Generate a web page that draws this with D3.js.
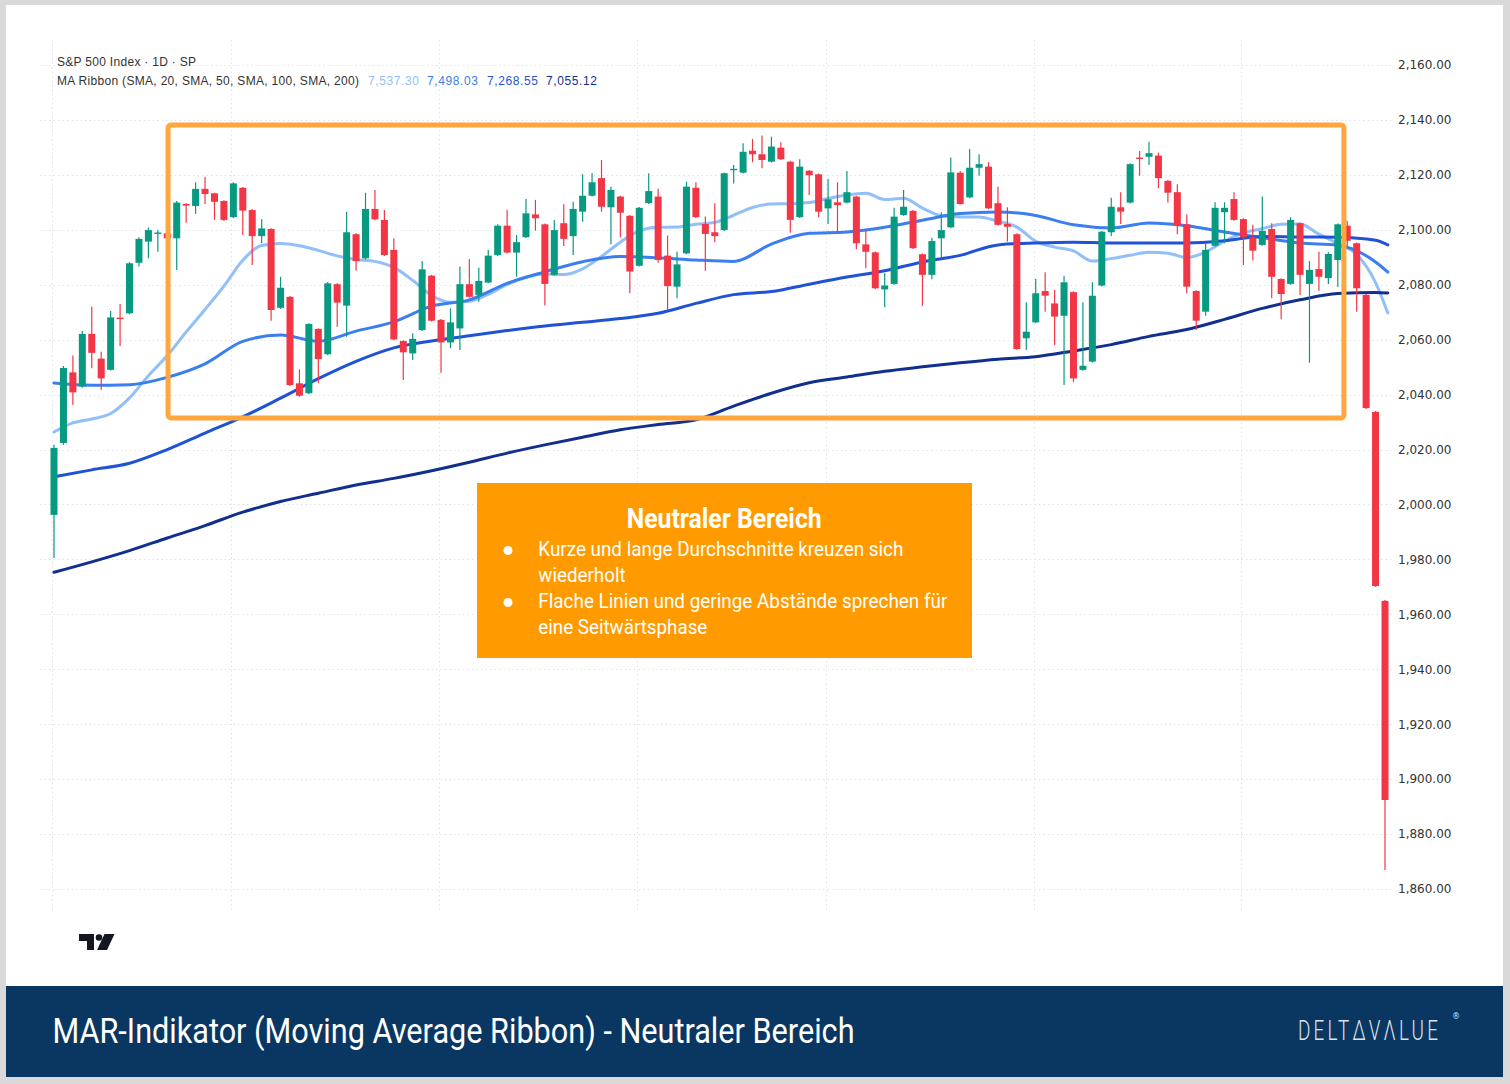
<!DOCTYPE html>
<html><head><meta charset="utf-8">
<script src="https://cdn.jsdelivr.net/npm/d3@7"></script>
<style>html,body{margin:0;padding:0;background:#d9d9d9;} svg{display:block;}</style>
</head><body>
<svg id="chart" width="1510" height="1084"></svg>
<script>
// ---------- DATA (daily candles) ----------
const open = [1996.2,2022.4,2048.1,2042.9,2062.1,2053.1,2049.0,2068.0,2069.6,2088.0,
2095.7,2098.5,2098.7,2096.9,2109.4,2108.7,2114.9,2113.3,2110.5,2104.6,
2115.3,2107.2,2097.7,2100.3,2071.6,2075.6,2044.1,2040.5,2063.9,2054.7,
2080.2,2072.4,2098.4,2089.6,2107.6,2103.6,2092.7,2059.5,2055.0,2063.5,
2083.3,2067.2,2059.0,2064.1,2080.2,2076.3,2080.8,2090.8,2101.5,2091.7,
2097.3,2105.6,2102.0,2083.6,2102.4,2097.7,2106.6,2112.4,2118.8,2108.2,
2112.1,2105.1,2086.9,2109.7,2112.1,2090.6,2079.3,2091.4,2115.3,2102.1,
2099.1,2099.9,2121.7,2120.8,2128.8,2127.5,2124.8,2129.9,2124.8,2104.6,
2121.5,2120.2,2107.8,2110.0,2109.9,2112.1,2094.7,2091.8,2078.3,2080.3,
2105.4,2106.9,2091.1,2083.6,2096.9,2100.9,2120.8,2111.8,2122.6,2123.0,
2109.7,2102.1,2098.4,2060.5,2066.3,2077.7,2073.2,2068.7,2077.3,2049.0,
2052.0,2079.7,2099.1,2108.2,2109.9,2126.3,2126.6,2127.0,2117.8,2113.7,
2102.0,2077.7,2070.2,2094.2,2106.4,2111.2,2103.9,2097.3,2094.5,2100.3,
2082.1,2080.3,2102.4,2080.3,2085.7,2082.4,2089.0,2101.5,2095.1,2076.3,
2033.7,1964.9];
const high = [2021.7,2050.4,2054.2,2063.2,2072.0,2055.6,2070.4,2073.0,2088.2,2097.3,
2100.8,2099.9,2099.6,2110.5,2109.8,2117.3,2119.3,2113.5,2110.8,2117.3,
2115.6,2107.5,2103.8,2100.6,2082.9,2075.9,2049.2,2066.0,2064.2,2081.0,
2080.5,2106.6,2098.7,2113.5,2114.5,2107.2,2096.9,2059.8,2062.3,2088.6,
2083.6,2067.5,2071.4,2086.6,2089.4,2086.2,2092.7,2102.0,2107.2,2098.1,
2111.2,2110.9,2102.3,2103.6,2109.3,2110.2,2120.2,2120.6,2125.4,2115.7,
2112.4,2105.4,2108.3,2120.6,2114.9,2097.9,2092.0,2117.5,2117.3,2104.8,
2109.7,2120.9,2123.6,2131.5,2133.1,2134.3,2133.9,2131.9,2125.1,2125.7,
2121.8,2120.5,2118.5,2117.3,2121.4,2112.4,2100.2,2092.1,2084.2,2108.0,
2114.5,2107.2,2091.4,2097.1,2106.4,2126.3,2121.4,2129.4,2127.5,2124.6,
2115.7,2108.2,2098.7,2073.6,2082.1,2084.5,2078.1,2083.3,2077.6,2073.6,
2080.9,2099.6,2111.7,2113.7,2124.2,2128.7,2132.1,2128.1,2118.1,2116.6,
2105.6,2078.0,2095.1,2110.0,2110.0,2113.7,2104.2,2101.8,2112.1,2102.4,
2082.4,2104.6,2102.7,2088.6,2092.0,2091.8,2102.3,2103.3,2095.4,2076.6,
2034.0,1965.2];
const low = [1980.5,2021.7,2036.2,2042.5,2049.6,2041.7,2048.8,2057.7,2069.2,2086.6,
2089.6,2092.0,2090.8,2085.4,2102.6,2105.8,2109.4,2103.6,2103.2,2104.2,
2098.1,2087.2,2095.1,2066.9,2071.2,2043.1,2039.2,2040.1,2044.1,2054.3,
2064.7,2061.1,2085.1,2089.2,2103.5,2090.5,2059.8,2045.3,2052.6,2063.2,
2066.6,2048.0,2056.9,2056.2,2075.3,2073.8,2080.5,2090.5,2091.4,2082.9,
2097.0,2099.7,2072.4,2083.3,2094.1,2090.8,2102.9,2112.1,2106.6,2094.7,
2097.3,2076.9,2086.6,2109.4,2088.0,2070.8,2075.1,2091.1,2104.3,2085.1,
2095.5,2099.6,2116.9,2120.5,2124.6,2122.4,2124.5,2125.4,2098.9,2104.3,
2112.7,2104.6,2102.1,2098.9,2109.6,2092.9,2086.0,2078.4,2071.8,2080.0,
2105.1,2093.0,2072.3,2082.0,2089.6,2100.6,2109.1,2111.5,2119.7,2107.5,
2101.5,2095.7,2056.3,2056.2,2066.0,2070.2,2058.1,2043.5,2044.5,2048.7,
2051.7,2079.4,2097.7,2102.1,2109.6,2119.7,2123.6,2115.1,2109.9,2098.4,
2076.9,2063.5,2068.7,2093.9,2095.1,2103.3,2087.2,2088.8,2094.2,2075.1,
2067.4,2080.0,2076.3,2051.6,2077.8,2080.3,2079.3,2093.9,2070.2,2034.8,
1970.0,1866.9];
const close = [2020.6,2049.7,2040.8,2062.1,2055.2,2045.9,2068.1,2067.5,2087.8,2096.7,
2099.9,2099.0,2096.9,2109.9,2108.8,2114.9,2113.0,2110.2,2103.6,2116.9,
2107.0,2097.7,2100.5,2070.8,2078.9,2043.5,2039.6,2065.7,2052.9,2080.5,
2073.5,2099.1,2088.6,2107.6,2103.8,2090.8,2060.1,2055.4,2060.3,2085.6,
2066.9,2059.0,2066.3,2080.2,2075.6,2081.4,2090.6,2101.5,2091.7,2095.5,
2106.0,2104.2,2080.3,2099.9,2096.7,2107.6,2112.4,2117.3,2108.4,2114.5,
2106.2,2084.8,2108.0,2114.1,2089.0,2079.5,2087.4,2115.7,2104.6,2098.5,
2097.7,2120.6,2122.2,2128.4,2127.5,2125.4,2130.3,2125.7,2103.6,2123.0,
2119.9,2106.6,2111.1,2109.0,2113.7,2095.1,2092.0,2078.7,2079.7,2104.8,
2108.4,2093.3,2083.6,2095.9,2099.9,2120.9,2109.4,2122.6,2123.9,2107.8,
2101.8,2101.1,2056.6,2062.9,2076.9,2076.0,2068.4,2080.9,2045.9,2050.5,
2076.0,2099.3,2108.4,2106.6,2123.9,2125.8,2127.9,2118.8,2113.5,2101.5,
2079.3,2066.9,2092.7,2108.0,2108.0,2103.6,2097.3,2092.4,2099.6,2082.9,
2076.6,2103.6,2083.6,2085.4,2082.9,2091.2,2102.0,2096.0,2078.7,2035.1,
1970.3,1892.4];

// moving averages (candle index, value)
const sma20Days = [0,2,4,6,8,10,12,14,16,18,20,22,24,26,28,30,32,34,36,38,40,42,44,46,48,50,
52,54,56,58,60,62,64,66,68,70,72,74,76,78,80,82,84,86,88,90,92,94,96,98,100,102,104,106,108,110,
112,114,116,118,120,122,124,126,128,130,132,134,136,138,140,141.3];
const sma20 = [2026.4,2029.7,2031.1,2033.1,2038.8,2046.9,2054.2,2062.8,2071.0,2079.5,
2088.9,2094.3,2095.0,2094.2,2092.5,2090.5,2089.2,2088.5,2086.3,2081.6,
2076.1,2073.6,2074.0,2076.5,2080.1,2082.7,2083.9,2083.7,2085.8,2090.3,
2095.5,2099.6,2100.9,2101.0,2102.0,2102.7,2105.3,2108.1,2109.4,2109.5,
2109.9,2111.4,2112.7,2113.3,2111.0,2111.5,2107.9,2105.1,2104.7,2104.7,
2103.1,2101.0,2095.8,2093.7,2092.3,2088.6,2089.5,2090.7,2091.8,2091.5,
2089.9,2091.9,2095.9,2098.9,2100.4,2102.0,2102.1,2098.4,2095.0,2091.0,
2080.8,2069.7];
const smaDays = [0,4,8,12,16,20,24,28,32,36,40,44,48,52,56,60,64,68,72,76,80,84,88,92,96,100,
104,108,112,116,120,124,128,132,136,140,141.3];
const sma50 = [2044.2,2043.4,2043.6,2046.3,2051.2,2059.4,2061.7,2059.4,2063.1,2066.5,2072.2,2074.5,
2080.5,2084.7,2088.4,2090.3,2089.8,2089.0,2088.5,2094.8,2098.7,2099.2,2100.9,2103.5,2105.9,2106.5,
2105.2,2101.8,2100.7,2102.5,2101.5,2099.2,2097.1,2095.2,2094.4,2088.3,2084.6];
const sma100 = [2010.1,2012.6,2015.0,2020.0,2026.0,2031.9,2038.7,2045.8,2052.1,2057.0,2059.5,2061.4,
2063.3,2065.0,2066.3,2067.7,2069.6,2073.2,2076.4,2077.5,2080.2,2082.8,2085.1,2088.3,2090.7,2094.5,
2095.2,2095.5,2095.2,2095.2,2095.2,2096.0,2097.6,2097.4,2097.3,2096.2,2094.5];
const sma200 = [1975.3,1979.1,1983.2,1987.8,1992.3,1997.2,2001.1,2004.1,2007.1,2009.5,2012.3,2015.4,
2018.7,2021.7,2024.5,2027.2,2029.1,2030.8,2035.8,2040.5,2044.3,2046.4,2048.5,2050.1,2051.6,2052.9,
2053.8,2055.9,2058.2,2061.2,2063.7,2067.4,2071.4,2074.5,2076.8,2077.2,2077.0];

const yTicks = [1860,1880,1900,1920,1940,1960,1980,2000,2020,2040,2060,2080,2100,2120,2140,2160];
const monthStarts = [0,19,41,62,82,104,126];

const headerTitle = "S&P 500 Index · 1D · SP";
const ribbonLabel = "MA Ribbon (SMA, 20, SMA, 50, SMA, 100, SMA, 200)";
const ribbonValues = ["7,537.30","7,498.03","7,268.55","7,055.12"];
const boxTitle = "Neutraler Bereich";
const bulletLines = [
  {bullet:true,  text:"Kurze und lange Durchschnitte kreuzen sich"},
  {bullet:false, text:"wiederholt"},
  {bullet:true,  text:"Flache Linien und geringe Abstände sprechen für"},
  {bullet:false, text:"eine Seitwärtsphase"}
];
const footerTitle = "MAR-Indikator (Moving Average Ribbon) - Neutraler Bereich";
const brandName = "DELTΔVΛLUE";
const zone = {start:12.08, end:136.65, top:2138.2, bottom:2031.5};

// ---------- STYLE ----------
const UP = "#089981", DOWN = "#f23645";
const maColors = ["#90bff9","#3a7ef2","#1f52d6","#112f8e"];

// ---------- DRAW ----------
const svg = d3.select("#chart");
svg.append("rect").attr("x",6).attr("y",5).attr("width",1497).attr("height",981).attr("fill","#ffffff");

const x = d3.scaleLinear().domain([0,141]).range([54,1385]);
const y = d3.scaleLinear().domain([1860,2160]).range([889,65]);

// grid
const grid = svg.append("g").attr("stroke","#dfe2e8").attr("stroke-width",1).attr("stroke-dasharray","1.5,3");
grid.selectAll("line.h").data(yTicks).join("line").attr("class","h")
  .attr("x1",40).attr("x2",1392).attr("y1",d=>Math.round(y(d))+0.5).attr("y2",d=>Math.round(y(d))+0.5);
grid.selectAll("line.v").data(monthStarts).join("line").attr("class","v")
  .attr("x1",d=>Math.round(x(d))-1.5).attr("x2",d=>Math.round(x(d))-1.5).attr("y1",40).attr("y2",910);

// y axis
const ax = svg.append("g").attr("transform","translate(1398,0)")
  .call(d3.axisRight(y).tickValues(yTicks).tickSize(0).tickPadding(0).tickFormat(d3.format(",.2f")));
ax.select(".domain").remove();
ax.selectAll("text").attr("font-family","DejaVu Sans, sans-serif").attr("font-size",12).attr("fill","#333");

// moving averages
const line = d3.line().x(d=>x(d[0])).y(d=>y(d[1])).curve(d3.curveMonotoneX);
const maSeries = [
  d3.zip(sma20Days, sma20),
  d3.zip(smaDays, sma50),
  d3.zip(smaDays, sma100),
  d3.zip(smaDays, sma200)
];
svg.append("g").selectAll("path").data(maSeries).join("path")
  .attr("d", line).attr("fill","none")
  .attr("stroke",(d,i)=>maColors[i]).attr("stroke-width",3)
  .attr("stroke-linejoin","round").attr("stroke-linecap","round");

// candles
const idx = d3.range(open.length);
const cg = svg.append("g");
cg.selectAll("line").data(idx).join("line")
  .attr("x1",i=>x(i)).attr("x2",i=>x(i))
  .attr("y1",i=>y(high[i])).attr("y2",i=>y(low[i]))
  .attr("stroke",i=>close[i]>=open[i]?UP:DOWN).attr("stroke-width",1.2);
cg.selectAll("rect").data(idx).join("rect")
  .attr("x",i=>x(i)-3.5).attr("width",7)
  .attr("y",i=>y(Math.max(open[i],close[i])))
  .attr("height",i=>Math.max(1.2,Math.abs(y(open[i])-y(close[i]))))
  .attr("fill",i=>close[i]>=open[i]?UP:DOWN);

// neutral zone frame
svg.append("rect")
  .attr("x",x(zone.start)).attr("y",y(zone.top))
  .attr("width",x(zone.end)-x(zone.start)).attr("height",y(zone.bottom)-y(zone.top))
  .attr("rx",3).attr("fill","none").attr("stroke","#ffa63c").attr("stroke-width",5);

// header
svg.append("text").attr("x",57).attr("y",66).text(headerTitle)
  .attr("font-family","Liberation Sans, Arial, sans-serif").attr("font-size",12).attr("fill","#333")
  .attr("textLength",139);
svg.append("text").attr("x",57).attr("y",85).text(ribbonLabel)
  .attr("font-family","Liberation Sans, Arial, sans-serif").attr("font-size",12).attr("fill","#333")
  .attr("textLength",302);
const valX = [368,427,487,546];
svg.append("g").selectAll("text").data(ribbonValues).join("text")
  .attr("x",(d,i)=>valX[i]).attr("y",85).text(d=>d)
  .attr("font-family","Liberation Sans, Arial, sans-serif").attr("font-size",12)
  .attr("fill",(d,i)=>maColors[i]).attr("textLength",51);

// annotation box
svg.append("rect").attr("x",477).attr("y",483).attr("width",495).attr("height",175).attr("fill","#ff9b00");
svg.append("text").attr("x",626.7).attr("y",528).text(boxTitle)
  .attr("font-family","Roboto, sans-serif").attr("font-weight",700).attr("font-size",27)
  .attr("fill","#fff").attr("textLength",195).attr("lengthAdjust","spacingAndGlyphs");
const bw = [365,87.3,409,169];
bulletLines.forEach((b,i)=>{
  const by = 556 + i*26;
  if (b.bullet) svg.append("circle").attr("cx",508).attr("cy",by-5.5).attr("r",4.5).attr("fill","#fff");
  svg.append("text").attr("x",538.3).attr("y",by).text(b.text)
    .attr("font-family","Roboto, sans-serif").attr("font-size",20).attr("fill","#fff")
    .attr("textLength",bw[i]).attr("lengthAdjust","spacingAndGlyphs");
});

// TradingView logo
const logo = svg.append("g").attr("fill","#131722");
logo.append("path").attr("d","M79,934 H94 V950 H87 V941 H79 Z");
logo.append("circle").attr("cx",99).attr("cy",937.5).attr("r",3.3);
logo.append("path").attr("d","M104.5,934 H114.5 L107,950 H97 Z");

// footer
svg.append("rect").attr("x",6).attr("y",986).attr("width",1497).attr("height",91).attr("fill","#0a3662");
svg.append("text").attr("x",52.5).attr("y",1043).text(footerTitle)
  .attr("font-family","Roboto, sans-serif").attr("font-size",35).attr("fill","#fff")
  .attr("textLength",802).attr("lengthAdjust","spacingAndGlyphs");
svg.append("text").attr("transform","translate(1298,1040) scale(0.7,1)").text(brandName)
  .attr("font-family","Roboto, sans-serif").attr("font-weight",300).attr("font-size",27)
  .attr("letter-spacing",4.5).attr("fill","#dfe3e8");
svg.append("text").attr("x",1452).attr("y",1019).text("®")
  .attr("font-family","DejaVu Sans, sans-serif").attr("font-size",8).attr("fill","#dfe3e8");
</script>
</body></html>
